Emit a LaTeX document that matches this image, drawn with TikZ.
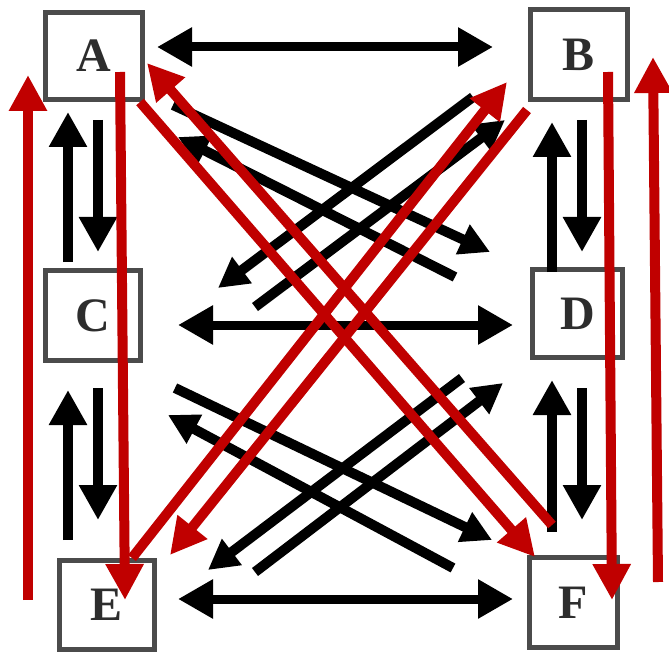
\documentclass[tikz,border=0pt]{standalone}
\usepackage{fontspec}
\setmainfont{Liberation Serif}
\usetikzlibrary{arrows.meta}
\definecolor{redline}{RGB}{192,0,0}
\definecolor{boxgray}{RGB}{75,75,75}
\definecolor{lettergray}{RGB}{45,45,45}
\begin{document}
\begin{tikzpicture}[x=1pt,y=-1pt,
  box/.style={draw=boxgray, line width=4.5pt, fill=white, inner sep=0pt,
    font=\fontsize{48}{48}\selectfont\bfseries, text=lettergray},
  bighead/.style={-{Triangle[length=35pt,width=36pt]}},
  dblhead/.style={{Triangle[length=35pt,width=37pt]}-{Triangle[length=35pt,width=37pt]}},
  diahead/.style={-{Triangle[length=30pt,width=31pt]}},
  blk/.style={draw=black, line width=10pt},
  hor/.style={draw=black, line width=9pt},
  rd/.style={draw=redline, line width=10pt, -{Triangle[length=36pt,width=36pt]}}]
\fill[white] (0,0) rectangle (669,655);
\useasboundingbox (0,0) rectangle (669,655);

% boxes
\node[box, minimum width=97pt, minimum height=87pt] (A) at (94,56) {A};
\node[box, minimum width=97pt, minimum height=90pt] (B) at (579,54.5) {B};
\node[box, minimum width=95pt, minimum height=90pt] (C) at (93,315.5) {C};
\node[box, minimum width=90pt, minimum height=88pt] (D) at (577.5,313.5) {D};
\node[box, minimum width=95pt, minimum height=89pt] (E) at (107,605) {E};
\node[box, minimum width=88pt, minimum height=90pt] (F) at (573.5,602.5) {F};

% horizontal arrow ends
\coordinate (ab1) at (157,47);  \coordinate (ab2) at (493,47);
\coordinate (cd1) at (178,325); \coordinate (cd2) at (513,325);
\coordinate (ef1) at (178,599); \coordinate (ef2) at (513,599);
\draw[hor, dblhead] (ab1) -- (ab2);
\draw[hor, dblhead] (cd1) -- (cd2);
\draw[hor, dblhead] (ef1) -- (ef2);

% vertical pairs
\coordinate (acu1) at (68,262);  \coordinate (acu2) at (68,112);
\coordinate (acd1) at (98,120);  \coordinate (acd2) at (98,252);
\coordinate (ceu1) at (68,540);  \coordinate (ceu2) at (68,390);
\coordinate (ced1) at (98,388);  \coordinate (ced2) at (98,520);
\coordinate (bdu1) at (552,272); \coordinate (bdu2) at (552,122);
\coordinate (bdd1) at (582,120); \coordinate (bdd2) at (582,252);
\coordinate (dfu1) at (552,532); \coordinate (dfu2) at (552,380);
\coordinate (dfd1) at (582,388); \coordinate (dfd2) at (582,520);
\draw[blk, bighead] (acu1) -- (acu2);
\draw[blk, bighead] (acd1) -- (acd2);
\draw[blk, bighead] (ceu1) -- (ceu2);
\draw[blk, bighead] (ced1) -- (ced2);
\draw[blk, bighead] (bdu1) -- (bdu2);
\draw[blk, bighead] (bdd1) -- (bdd2);
\draw[blk, bighead] (dfu1) -- (dfu2);
\draw[blk, bighead] (dfd1) -- (dfd2);

% black diagonals, upper group
\coordinate (ad1) at (173,105); \coordinate (ad2) at (490,252);
\coordinate (da1) at (455,277); \coordinate (da2) at (178,137);
\coordinate (bc1) at (473,97);  \coordinate (bc2) at (218,288);
\coordinate (cb1) at (255,307); \coordinate (cb2) at (505,120);
\draw[blk, diahead] (ad1) -- (ad2);
\draw[blk, diahead] (da1) -- (da2);
\draw[blk, diahead] (bc1) -- (bc2);
\draw[blk, diahead] (cb1) -- (cb2);

% black diagonals, lower group
\coordinate (cf1) at (175,388); \coordinate (cf2) at (492,540);
\coordinate (fc1) at (453,568); \coordinate (fc2) at (168,415);
\coordinate (de1) at (462,378); \coordinate (de2) at (208,570);
\coordinate (ed1) at (255,572); \coordinate (ed2) at (503,383);
\draw[blk, diahead] (cf1) -- (cf2);
\draw[blk, diahead] (fc1) -- (fc2);
\draw[blk, diahead] (de1) -- (de2);
\draw[blk, diahead] (ed1) -- (ed2);

% red arrows
\coordinate (r1a) at (28,600);  \coordinate (r1b) at (28,75);
\coordinate (r2a) at (120,72);  \coordinate (r2b) at (125,600);
\coordinate (r3a) at (608,72);  \coordinate (r3b) at (612,600);
\coordinate (r4a) at (658,582); \coordinate (r4b) at (653,57);
\coordinate (r5a) at (140,102); \coordinate (r5b) at (535,557);
\coordinate (r6a) at (552,525); \coordinate (r6b) at (147,63);
\coordinate (r7a) at (132,558); \coordinate (r7b) at (507,82);
\coordinate (r8a) at (527,110); \coordinate (r8b) at (170,555);
\draw[rd] (r1a) -- (r1b);
\draw[rd] (r2a) -- (r2b);
\draw[rd] (r3a) -- (r3b);
\draw[rd] (r4a) -- (r4b);
\draw[rd] (r5a) -- (r5b);
\draw[rd] (r6a) -- (r6b);
\draw[rd] (r7a) -- (r7b);
\draw[rd] (r8a) -- (r8b);
\end{tikzpicture}
\end{document}
